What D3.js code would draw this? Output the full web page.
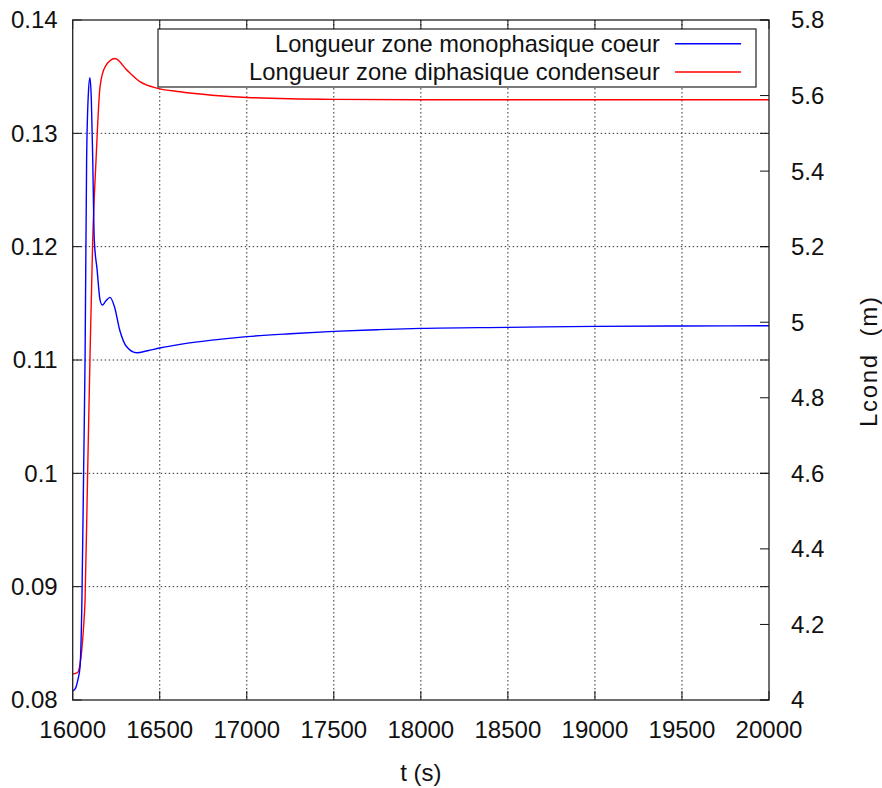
<!DOCTYPE html>
<html>
<head>
<meta charset="utf-8">
<script src="https://cdn.jsdelivr.net/npm/d3@7/dist/d3.min.js"></script>
<style>
  body { margin: 0; background: #fff; }
  text { font-family: "Liberation Sans", Arial, sans-serif; fill: #111; }
</style>
</head>
<body>
<div id="chart"></div>
<script>
// blue series: Longueur zone monophasique coeur (left axis)
var monoTimes = [16000, 16015, 16030, 16042, 16053, 16063, 16071, 16080, 16090, 16099, 16107, 16115, 16124, 16140, 16157, 16170, 16190, 16214, 16240, 16270, 16310, 16368, 16430, 16500, 16617, 16800, 17000, 17250, 17500, 17750, 18000, 18500, 19000, 19500, 20000];
var monoValues = [0.0808, 0.0810, 0.0818, 0.0829, 0.0888, 0.1005, 0.1100, 0.1277, 0.1335, 0.1349, 0.1330, 0.1277, 0.1206, 0.1180, 0.1153, 0.11485, 0.1152, 0.11553, 0.1147, 0.11265, 0.11117, 0.11064, 0.11082, 0.11106, 0.11138, 0.11175, 0.11206, 0.11232, 0.11253, 0.11267, 0.11279, 0.11288, 0.11297, 0.11300, 0.11302];

// red series: Longueur zone diphasique condenseur (right axis)
var diphTimes = [16000, 16020, 16032, 16042, 16052, 16062, 16071, 16085, 16099, 16115, 16134, 16157, 16186, 16243, 16310, 16386, 16490, 16617, 16800, 17000, 17500, 18000, 20000];
var diphValues = [4.069, 4.071, 4.075, 4.095, 4.132, 4.19, 4.265, 4.582, 4.900, 5.218, 5.429, 5.623, 5.676, 5.698, 5.668, 5.637, 5.619, 5.610, 5.601, 5.595, 5.590, 5.589, 5.589];

var xTicks = [16000, 16500, 17000, 17500, 18000, 18500, 19000, 19500, 20000];
var yTicks = [0.08, 0.09, 0.1, 0.11, 0.12, 0.13, 0.14];
var y2Ticks = [4, 4.2, 4.4, 4.6, 4.8, 5, 5.2, 5.4, 5.6, 5.8];

var seriesNames = ["Longueur zone monophasique coeur", "Longueur zone diphasique condenseur"];
var seriesColors = ["#0000ff", "#ff0000"];

var W = 882, H = 788;
var margin = { top: 20, right: 113, bottom: 88, left: 72.7 },
    width = W - margin.left - margin.right,
    height = H - margin.top - margin.bottom;

var svg = d3.select("#chart").append("svg")
    .attr("width", W)
    .attr("height", H);

var g = svg.append("g")
    .attr("transform", "translate(" + margin.left + "," + margin.top + ")");

var x = d3.scaleLinear().domain([16000, 20000]).range([0, width]);
var y = d3.scaleLinear().domain([0.08, 0.14]).range([height, 0]);
var y2 = d3.scaleLinear().domain([4, 5.8]).range([height, 0]);

var tickLen = 9;
var fontSize = "24px";

// dotted grid
g.selectAll(".gx").data(xTicks.slice(1, -1)).enter().append("line")
    .attr("x1", d => x(d)).attr("x2", d => x(d))
    .attr("y1", 0).attr("y2", height)
    .attr("stroke", "#333").attr("stroke-width", 1)
    .attr("stroke-dasharray", "1.5,2.5");
g.selectAll(".gy").data(yTicks.slice(1, -1)).enter().append("line")
    .attr("x1", 0).attr("x2", width)
    .attr("y1", d => y(d)).attr("y2", d => y(d))
    .attr("stroke", "#333").attr("stroke-width", 1)
    .attr("stroke-dasharray", "1.5,2.5");

// inward ticks
var ticks = g.append("g").attr("stroke", "#111").attr("stroke-width", 1);
xTicks.forEach(function (d) {
    ticks.append("line").attr("x1", x(d)).attr("x2", x(d)).attr("y1", height).attr("y2", height - tickLen);
    ticks.append("line").attr("x1", x(d)).attr("x2", x(d)).attr("y1", 0).attr("y2", tickLen);
});
yTicks.forEach(function (d) {
    ticks.append("line").attr("x1", 0).attr("x2", tickLen).attr("y1", y(d)).attr("y2", y(d));
    ticks.append("line").attr("x1", width).attr("x2", width - tickLen).attr("y1", y(d)).attr("y2", y(d));
});
y2Ticks.forEach(function (d) {
    ticks.append("line").attr("x1", width).attr("x2", width - tickLen).attr("y1", y2(d)).attr("y2", y2(d));
});

// tick labels
g.selectAll(".xl").data(xTicks).enter().append("text")
    .attr("x", d => x(d)).attr("y", height + 38)
    .attr("text-anchor", "middle").style("font-size", fontSize)
    .text(d => d);
g.selectAll(".yl").data(yTicks).enter().append("text")
    .attr("x", -15).attr("y", d => y(d)).attr("dy", "0.35em")
    .attr("text-anchor", "end").style("font-size", fontSize)
    .text(d => d3.format("")(+d.toFixed(2)));
g.selectAll(".y2l").data(y2Ticks).enter().append("text")
    .attr("x", width + 22).attr("y", d => y2(d)).attr("dy", "0.35em")
    .attr("text-anchor", "start").style("font-size", fontSize)
    .text(d => d3.format("")(+d.toFixed(1)));

// curves
var lineMono = d3.line()
    .x((d, i) => x(monoTimes[i]))
    .y(d => y(d))
    .curve(d3.curveMonotoneX);
var lineDiph = d3.line()
    .x((d, i) => x(diphTimes[i]))
    .y(d => y2(d))
    .curve(d3.curveMonotoneX);

g.append("clipPath").attr("id", "clip")
    .append("rect").attr("width", width).attr("height", height);

g.append("path").datum(diphValues)
    .attr("clip-path", "url(#clip)")
    .attr("fill", "none").attr("stroke", seriesColors[1]).attr("stroke-width", 1.4)
    .attr("d", lineDiph);
g.append("path").datum(monoValues)
    .attr("clip-path", "url(#clip)")
    .attr("fill", "none").attr("stroke", seriesColors[0]).attr("stroke-width", 1.4)
    .attr("d", lineMono);

// legend
var legend = g.append("g").attr("transform", "translate(" + (158 - margin.left) + "," + (29 - margin.top) + ")");
legend.append("rect")
    .attr("width", 598).attr("height", 58)
    .attr("fill", "#fff").attr("stroke", "#222").attr("stroke-width", 1.2);
var legendWidths = [385, 411];
seriesNames.forEach(function (name, i) {
    var ly = 14.7 + i * 28.3;
    legend.append("text")
        .attr("x", 502).attr("y", ly).attr("dy", "0.35em")
        .attr("text-anchor", "end").style("font-size", fontSize)
        .attr("textLength", legendWidths[i]).attr("lengthAdjust", "spacingAndGlyphs")
        .text(name);
    legend.append("line")
        .attr("x1", 517).attr("x2", 583).attr("y1", ly).attr("y2", ly)
        .attr("stroke", seriesColors[i]).attr("stroke-width", 1.6);
});

// border
g.append("rect")
    .attr("width", width).attr("height", height)
    .attr("fill", "none").attr("stroke", "#222").attr("stroke-width", 1.3);

// axis titles
svg.append("text")
    .attr("x", margin.left + width / 2).attr("y", 781)
    .attr("text-anchor", "middle").style("font-size", fontSize)
    .text("t (s)");
svg.append("text")
    .attr("transform", "translate(877," + (margin.top + height / 2 + 2) + ") rotate(-90)")
    .attr("text-anchor", "middle").style("font-size", fontSize)
    .attr("xml:space", "preserve")
    .attr("textLength", 130).attr("lengthAdjust", "spacing")
    .text("Lcond  (m)");
</script>
</body>
</html>
